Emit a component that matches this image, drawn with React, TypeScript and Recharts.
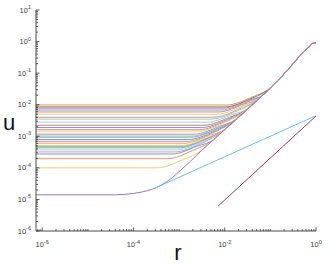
import { LineChart, Line, XAxis, YAxis } from 'recharts';

// axis ranges
const R_MIN = 7.3e-7;
const R_MAX = 1;
const U_MIN = 1e-6;
const U_MAX = 10;

const xMajor = [1e-6, 1e-4, 1e-2, 1];
const xMajorExp = ['-6', '-4', '-2', '0'];
const yMajor = [1e-6, 1e-5, 1e-4, 1e-3, 1e-2, 1e-1, 1, 10];
const yMajorExp = ['-6', '-5', '-4', '-3', '-2', '-1', '0', '1'];
const minorMult = [2, 3, 4, 5, 6, 7, 8, 9];

// flat levels, top to bottom
const flatLevels = [
  9.8e-3, 8.5e-3, 7.8e-3, 6.8e-3, 5.9e-3, 5.0e-3, 4.0e-3, 3.5e-3, 2.8e-3, 2.24e-3,
  1.9e-3, 1.62e-3, 1.45e-3, 1.17e-3, 1.02e-3, 9.3e-4, 7.9e-4, 6.9e-4, 6.0e-4, 5.1e-4,
  4.7e-4, 4.3e-4, 3.7e-4, 3.2e-4, 2.75e-4, 1.95e-4, 1.0e-4,
];
// r where each flat line starts to bend
const leaveR = [
  1.1e-2, 1.0e-2, 9.3e-3, 8.3e-3, 7.5e-3, 6.6e-3, 5.5e-3, 4.9e-3, 4.2e-3, 3.5e-3,
  3.1e-3, 2.75e-3, 2.5e-3, 2.15e-3, 1.93e-3, 1.8e-3, 1.6e-3, 1.43e-3, 1.29e-3, 1.14e-3,
  1.06e-3, 9.9e-4, 8.9e-4, 7.8e-4, 7.0e-4, 5.4e-4, 3.3e-4,
];
// knee point of each line
const kneeR = [
  3.96e-2, 3.56e-2, 3.32e-2, 2.99e-2, 2.68e-2, 2.37e-2, 1.99e-2, 1.79e-2, 1.52e-2, 1.27e-2,
  1.13e-2, 9.95e-3, 9.1e-3, 7.8e-3, 6.98e-3, 6.5e-3, 5.74e-3, 5.16e-3, 4.64e-3, 4.1e-3,
  3.82e-3, 3.56e-3, 3.2e-3, 2.83e-3, 2.54e-3, 1.95e-3, 1.17e-3,
];
const kneeU = [
  1.74e-2, 1.51e-2, 1.38e-2, 1.2e-2, 1.05e-2, 8.9e-3, 7.1e-3, 6.2e-3, 5.0e-3, 4.0e-3,
  3.4e-3, 2.9e-3, 2.57e-3, 2.09e-3, 1.82e-3, 1.66e-3, 1.41e-3, 1.23e-3, 1.07e-3, 9.1e-4,
  8.3e-4, 7.6e-4, 6.6e-4, 5.6e-4, 4.9e-4, 3.5e-4, 1.78e-4,
];
const flatColors = [
  '#d8a23c', '#7d6f8f', '#c77b8f', '#7aa6d6', '#d98a8a', '#f1cd7b', '#c49bd0', '#a9cf86', '#96d3ee',
  '#d9786a', '#6f9fd4', '#d88e9c', '#f2c870', '#b68bc4', '#9ccb77', '#7db0de', '#6e9dd0', '#dc8d98',
  '#eea87a', '#f2d07c', '#8fc06a', '#78a9da', '#9fd8f0', '#e19aa4', '#6f9fd2', '#e8946f', '#f3cf74',
];

// lowest line and the common upper curve
const baseLevel = 1.4e-5;
const baseLeaveR = 4e-5;
const envR = [
  1e-4, 1.58e-4, 2.51e-4, 3.55e-4, 5.0e-4, 7.1e-4, 1.0e-3, 1.78e-3, 3.16e-3, 5.62e-3,
  1e-2, 1.78e-2, 3.16e-2, 5.62e-2, 6.9e-2, 0.1, 0.178, 0.316, 0.5, 0.71, 0.85, 1,
];
const envU = [
  1.55e-5, 1.74e-5, 2.09e-5, 2.57e-5, 3.39e-5, 4.9e-5, 7.6e-5, 1.62e-4, 3.63e-4, 7.7e-4,
  1.63e-3, 3.45e-3, 7.3e-3, 1.56e-2, 2.04e-2, 3.39e-2, 7.9e-2, 0.2, 0.43, 0.68, 0.88, 0.93,
];

const cyanR = [3e-4, 1];
const cyanU = [2.3e-5, 4.5e-3];
const redR = [7.2e-3, 1];
const redU = [6.2e-6, 4.4e-3];

const FONT = '"Liberation Sans", Arial, Helvetica, sans-serif';
const AXIS = '#4a4a4a';
const TICK = '#333';
const LABEL = '#3a3a3a';

const envPts = envR.map((r, j) => ({ r, u: envU[j] }));

const flatSeries = flatLevels.map((lv, i) => [
  { r: R_MIN, u: lv },
  { r: leaveR[i], u: lv },
  { r: kneeR[i], u: kneeU[i] },
  ...envPts.filter((p) => p.r > kneeR[i] && p.u > 2.5 * lv),
]);
const baseSeries = [{ r: R_MIN, u: baseLevel }, { r: baseLeaveR, u: baseLevel }, ...envPts];
const cyanSeries = cyanR.map((r, i) => ({ r, u: cyanU[i] }));
const redSeries = redR.map((r, i) => ({ r, u: redU[i] }));

const xDecades = [1e-7, 1e-6, 1e-5, 1e-4, 1e-3, 1e-2, 1e-1];
const xMinor = [1e-5, 1e-3, 1e-1, ...xDecades.flatMap((d) => minorMult.map((m) => m * d))].filter(
  (v) => v > R_MIN && v < R_MAX,
);
const xTicks = [...xMajor, ...xMinor].sort((a, b) => a - b);
const yMinor = yMajor.slice(0, -1).flatMap((d) => minorMult.map((m) => m * d));
const yTicks = [...yMajor, ...yMinor].sort((a, b) => a - b);

const majorIndex = (v: number, majors: number[]) => majors.findIndex((m) => Math.abs(v / m - 1) < 1e-6);

function BottomTick(props: any) {
  const { x, y, payload } = props;
  const k = majorIndex(payload.value, xMajor);
  return (
    <g>
      <line x1={x} x2={x} y1={y} y2={y - (k >= 0 ? 3.5 : 2)} stroke={TICK} strokeWidth={0.8} />
      {k >= 0 && (
        <text x={x} y={y + 16} textAnchor="middle" fontSize={7.5} fill={LABEL} fontFamily={FONT}>
          10<tspan dy={-3.5} fontSize={5.5}>{xMajorExp[k]}</tspan>
        </text>
      )}
    </g>
  );
}

function TopTick(props: any) {
  const { x, y, payload } = props;
  const k = majorIndex(payload.value, xMajor);
  return <line x1={x} x2={x} y1={y} y2={y + (k >= 0 ? 3.5 : 2)} stroke={TICK} strokeWidth={0.8} />;
}

function LeftTick(props: any) {
  const { x, y, payload } = props;
  const k = majorIndex(payload.value, yMajor);
  return (
    <g>
      <line x1={x} x2={x + (k >= 0 ? 3.5 : 2)} y1={y} y2={y} stroke={TICK} strokeWidth={0.8} />
      {k >= 0 && (
        <text x={x - 5} y={y + 2.5} textAnchor="end" fontSize={7.5} fill={LABEL} fontFamily={FONT}>
          10<tspan dy={-3.5} fontSize={5.5}>{yMajorExp[k]}</tspan>
        </text>
      )}
    </g>
  );
}

function RightTick(props: any) {
  const { x, y, payload } = props;
  const k = majorIndex(payload.value, yMajor);
  return <line x1={x} x2={x - (k >= 0 ? 3.5 : 2)} y1={y} y2={y} stroke={TICK} strokeWidth={0.8} />;
}

export default function App() {
  return (
    <div style={{ position: 'absolute', left: 0, top: 0, width: 332, height: 265, background: '#fff' }}>
      <LineChart width={332} height={265} margin={{ top: 10, right: 16, bottom: 0, left: 0 }}>
        <XAxis
          dataKey="r"
          type="number"
          scale="log"
          domain={[R_MIN, R_MAX]}
          allowDataOverflow
          ticks={xTicks}
          interval={0}
          tickSize={0}
          tickMargin={0}
          tickLine={false}
          tick={BottomTick}
          axisLine={{ stroke: AXIS }}
          height={34}
        />
        <XAxis
          xAxisId="top"
          orientation="top"
          dataKey="r"
          type="number"
          scale="log"
          domain={[R_MIN, R_MAX]}
          allowDataOverflow
          ticks={xTicks}
          interval={0}
          tickSize={0}
          tickMargin={0}
          tickLine={false}
          tick={TopTick}
          axisLine={{ stroke: '#1f1f1f' }}
          height={0}
        />
        <YAxis
          type="number"
          scale="log"
          domain={[U_MIN, U_MAX]}
          allowDataOverflow
          ticks={yTicks}
          interval={0}
          tickSize={0}
          tickMargin={0}
          tickLine={false}
          tick={LeftTick}
          axisLine={{ stroke: AXIS }}
          width={36}
        />
        <YAxis
          yAxisId="right"
          orientation="right"
          type="number"
          scale="log"
          domain={[U_MIN, U_MAX]}
          allowDataOverflow
          ticks={yTicks}
          interval={0}
          tickSize={0}
          tickMargin={0}
          tickLine={false}
          tick={RightTick}
          axisLine={{ stroke: AXIS }}
          width={0}
        />
        {flatSeries.map((d, i) => (
          <Line
            key={i}
            data={d}
            dataKey="u"
            type="monotone"
            stroke={flatColors[i]}
            strokeWidth={1}
            dot={false}
            isAnimationActive={false}
          />
        ))}
        <Line data={baseSeries} dataKey="u" type="monotone" stroke="#a070b8" strokeWidth={1} dot={false} isAnimationActive={false} />
        <Line data={cyanSeries} dataKey="u" type="linear" stroke="#62c3ec" strokeWidth={1} dot={false} isAnimationActive={false} />
        <Line data={redSeries} dataKey="u" type="linear" stroke="#b4344f" strokeWidth={1} dot={false} isAnimationActive={false} />
      </LineChart>
      <svg width={332} height={265} style={{ position: 'absolute', left: 0, top: 0, pointerEvents: 'none' }}>
        <text x={9} y={130} textAnchor="middle" fontSize={22} fontFamily={FONT} fill="#111">u</text>
        <text x={178} y={260} textAnchor="middle" fontSize={22} fontFamily={FONT} fill="#111">r</text>
      </svg>
    </div>
  );
}
